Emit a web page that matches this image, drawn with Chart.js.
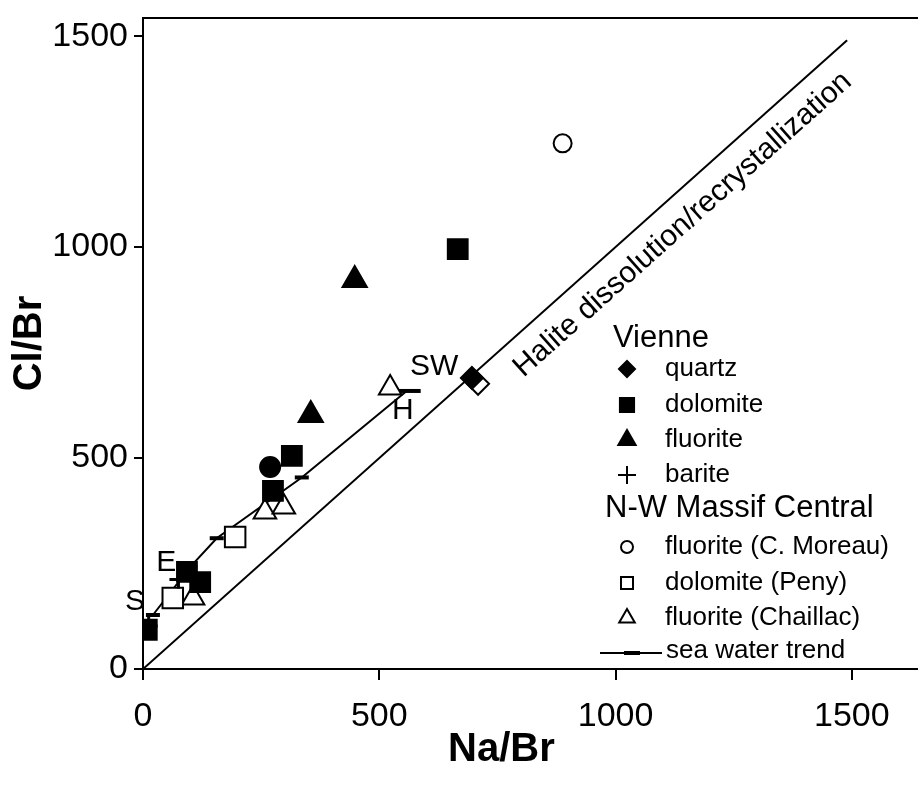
<!DOCTYPE html>
<html>
<head>
<meta charset="utf-8">
<script src="https://cdn.jsdelivr.net/npm/chart.js@4.4.1/dist/chart.umd.min.js"></script>
<style>
  html, body { margin: 0; padding: 0; background: #fff; overflow: hidden; }
  #wrap { width: 918px; height: 787px; }
</style>
</head>
<body>
<div id="wrap"><canvas id="chart" width="918" height="787"></canvas></div>
<script>
// Na/Br (x) et Cl/Br (y)
const xTicks = [0, 500, 1000, 1500];
const yTicks = [0, 500, 1000, 1500];

// Vienne
const quartzNa = [696];
const quartzCl = [690];
const quartzBehindNa = [709];
const quartzBehindCl = [676];
const dolomiteNa = [666, 315, 275, 93, 121, 8];
const dolomiteCl = [995, 505, 422, 230, 206, 93];
const fluoriteNa = [448, 355];
const fluoriteCl = [922, 602];
const bariteNa = [12, 75];
const bariteCl = [102, 212];
const circleNa = [269];
const circleCl = [479];

// N-W Massif Central
const moreauNa = [888];
const moreauCl = [1246];
const penyNa = [195, 63];
const penyCl = [313, 168];
const chaillacNa = [258, 298, 106, 523];
const chaillacCl = [372, 384, 168, 666];

// courbe d'évaporation de l'eau de mer
const seaWaterNa = [558, 336, 156, 100, 21];
const seaWaterCl = [659, 454, 310, 242, 128];
const seaWaterBar = [14, 7, 7, 7, 7];

// droite de dissolution de la halite
const haliteNa = [0, 1490];
const haliteCl = [0, 1490];
const haliteLabel = 'Halite dissolution/recrystallization';
const haliteLabelAt = 754;

const pointLabels = ['SW', 'H', 'E', 'S'];
const pointLabelNa = [616, 550, 49, -17];
const pointLabelCl = [716, 611, 251, 159];

const FONT = "'Liberation Sans', Arial, Helvetica, sans-serif";

function pts(xs, ys) {
  return xs.map((v, i) => ({ x: v, y: ys[i] }));
}

function marker(label, xs, ys, style, radius, filled, extra) {
  return Object.assign({
    label: label,
    data: pts(xs, ys),
    pointStyle: style,
    pointRadius: radius,
    pointBackgroundColor: filled ? '#000' : '#fff',
    pointBorderColor: '#000',
    pointBorderWidth: 2,
    showLine: false
  }, extra || {});
}

/* légende et annotations dessinées à la main */
const legendRows = [
  { head: 'Vienne', y: 338 },
  { text: 'quartz', y: 369, style: 'rectRot', r: 8, fill: true },
  { text: 'dolomite', y: 405, style: 'rect', r: 10, fill: true },
  { text: 'fluorite', y: 440, style: 'triangle', r: 10, fill: true },
  { text: 'barite', y: 475, style: 'cross', r: 9, fill: true },
  { head: 'N-W Massif Central', y: 508, left: 605 },
  { text: 'fluorite (C. Moreau)', y: 547, style: 'circle', r: 6, fill: false },
  { text: 'dolomite (Peny)', y: 583, style: 'rect', r: 8.5, fill: false },
  { text: 'fluorite (Chaillac)', y: 618, style: 'triangle', r: 9, fill: false }
];

const notesPlugin = {
  id: 'notes',
  afterDraw(chart) {
    const { ctx, chartArea, scales: { x, y } } = chart;
    ctx.save();
    ctx.strokeStyle = '#000';
    ctx.fillStyle = '#000';

    // cadre supérieur
    ctx.lineWidth = 2;
    ctx.beginPath();
    ctx.moveTo(chartArea.left, chartArea.top);
    ctx.lineTo(chartArea.right, chartArea.top);
    ctx.stroke();

    // titre de l'axe x, centré sur 0-1500
    ctx.font = 'bold 40px ' + FONT;
    ctx.textAlign = 'center';
    ctx.textBaseline = 'middle';
    ctx.fillText('Na/Br', x.getPixelForValue((xTicks[0] + xTicks[xTicks.length - 1]) / 2) + 4, 750);

    // texte le long de la droite halite
    const x0 = x.getPixelForValue(haliteNa[0]), y0 = y.getPixelForValue(haliteCl[0]);
    const x1 = x.getPixelForValue(haliteNa[1]), y1 = y.getPixelForValue(haliteCl[1]);
    const ang = Math.atan2(y1 - y0, x1 - x0);
    ctx.save();
    ctx.translate(x.getPixelForValue(haliteLabelAt), y.getPixelForValue(haliteLabelAt));
    ctx.rotate(ang);
    ctx.font = '30px ' + FONT;
    ctx.textAlign = 'left';
    ctx.textBaseline = 'middle';
    ctx.fillText(haliteLabel, 0, 28);
    ctx.restore();

    // étiquettes SW, H, E, S
    ctx.font = '30px ' + FONT;
    ctx.textAlign = 'center';
    ctx.textBaseline = 'middle';
    pointLabels.forEach((t, i) => {
      ctx.fillText(t, x.getPixelForValue(pointLabelNa[i]), y.getPixelForValue(pointLabelCl[i]));
    });

    // légende
    ctx.textAlign = 'left';
    legendRows.forEach(row => {
      if (row.head) {
        ctx.font = '31px ' + FONT;
        ctx.fillStyle = '#000';
        ctx.fillText(row.head, row.left || 613, row.y);
        return;
      }
      ctx.fillStyle = row.fill ? '#000' : '#fff';
      ctx.strokeStyle = '#000';
      ctx.lineWidth = 2;
      Chart.helpers.drawPoint(ctx, { pointStyle: row.style, radius: row.r, rotation: 0, borderWidth: 2 }, 627, row.y);
      ctx.fillStyle = '#000';
      ctx.font = '26px ' + FONT;
      ctx.fillText(row.text, 665, row.y);
    });

    // sea water trend
    ctx.lineWidth = 2;
    ctx.beginPath();
    ctx.moveTo(600, 653);
    ctx.lineTo(662, 653);
    ctx.stroke();
    ctx.lineWidth = 4;
    ctx.beginPath();
    ctx.moveTo(624, 653);
    ctx.lineTo(640, 653);
    ctx.stroke();
    ctx.font = '26px ' + FONT;
    ctx.fillText('sea water trend', 666, 651);

    ctx.restore();
  }
};

const datasets = [
  marker('quartz', quartzNa, quartzCl, 'rectRot', 11, true),
  marker('quartz-2', quartzBehindNa, quartzBehindCl, 'rectRot', 11, false),
  marker('dolomite', dolomiteNa, dolomiteCl, 'rect', 14, true),
  marker('fluorite', fluoriteNa, fluoriteCl, 'triangle', 14, true),
  marker('barite', bariteNa, bariteCl, 'cross', 9, true, { pointBorderWidth: 3 }),
  marker('circle', circleNa, circleCl, 'circle', 10, true),
  marker('fluorite (C. Moreau)', moreauNa, moreauCl, 'circle', 9, false),
  marker('dolomite (Peny)', penyNa, penyCl, 'rect', 14.5, false),
  marker('fluorite (Chaillac)', chaillacNa, chaillacCl, 'triangle', 13, false),
  {
    label: 'sea water trend',
    data: pts(seaWaterNa, seaWaterCl),
    showLine: true,
    borderColor: '#000',
    borderWidth: 2,
    tension: 0,
    fill: false,
    pointStyle: 'line',
    pointRadius: seaWaterBar,
    pointBorderColor: '#000',
    pointBorderWidth: 4
  },
  {
    label: 'halite',
    data: pts(haliteNa, haliteCl),
    showLine: true,
    borderColor: '#000',
    borderWidth: 2,
    fill: false,
    pointRadius: 0
  }
];

Chart.defaults.font.family = FONT;
Chart.defaults.color = '#000';

new Chart(document.getElementById('chart'), {
  type: 'scatter',
  data: { datasets: datasets },
  options: {
    responsive: false,
    animation: false,
    events: [],
    layout: { autoPadding: false, padding: { top: 18, left: 0, right: 0, bottom: 0 } },
    plugins: { legend: { display: false }, tooltip: { enabled: false } },
    scales: {
      x: {
        type: 'linear',
        min: 0,
        max: 1640,
        afterBuildTicks: s => { s.ticks = xTicks.map(v => ({ value: v })); },
        afterFit: s => { s.height = 118; s.paddingLeft = 0; s.paddingRight = 0; },
        ticks: { font: { size: 34 }, color: '#000', padding: 16, maxRotation: 0, callback: v => String(v) },
        grid: { drawOnChartArea: false, drawTicks: true, tickLength: 11, color: '#000', lineWidth: 2 },
        border: { display: true, color: '#000', width: 2 }
      },
      y: {
        type: 'linear',
        min: 0,
        max: 1543,
        afterBuildTicks: s => { s.ticks = yTicks.map(v => ({ value: v })); },
        afterFit: s => { s.width = 143; s.paddingTop = 0; s.paddingBottom = 0; },
        ticks: { font: { size: 34 }, color: '#000', padding: 6, callback: v => String(v) },
        grid: { drawOnChartArea: false, drawTicks: true, tickLength: 9, color: '#000', lineWidth: 2 },
        border: { display: true, color: '#000', width: 2 },
        title: { display: true, text: 'Cl/Br', font: { size: 40, weight: 'bold' }, color: '#000', padding: { top: 6, bottom: 0 } }
      }
    }
  },
  plugins: [notesPlugin]
});
</script>
</body>
</html>
